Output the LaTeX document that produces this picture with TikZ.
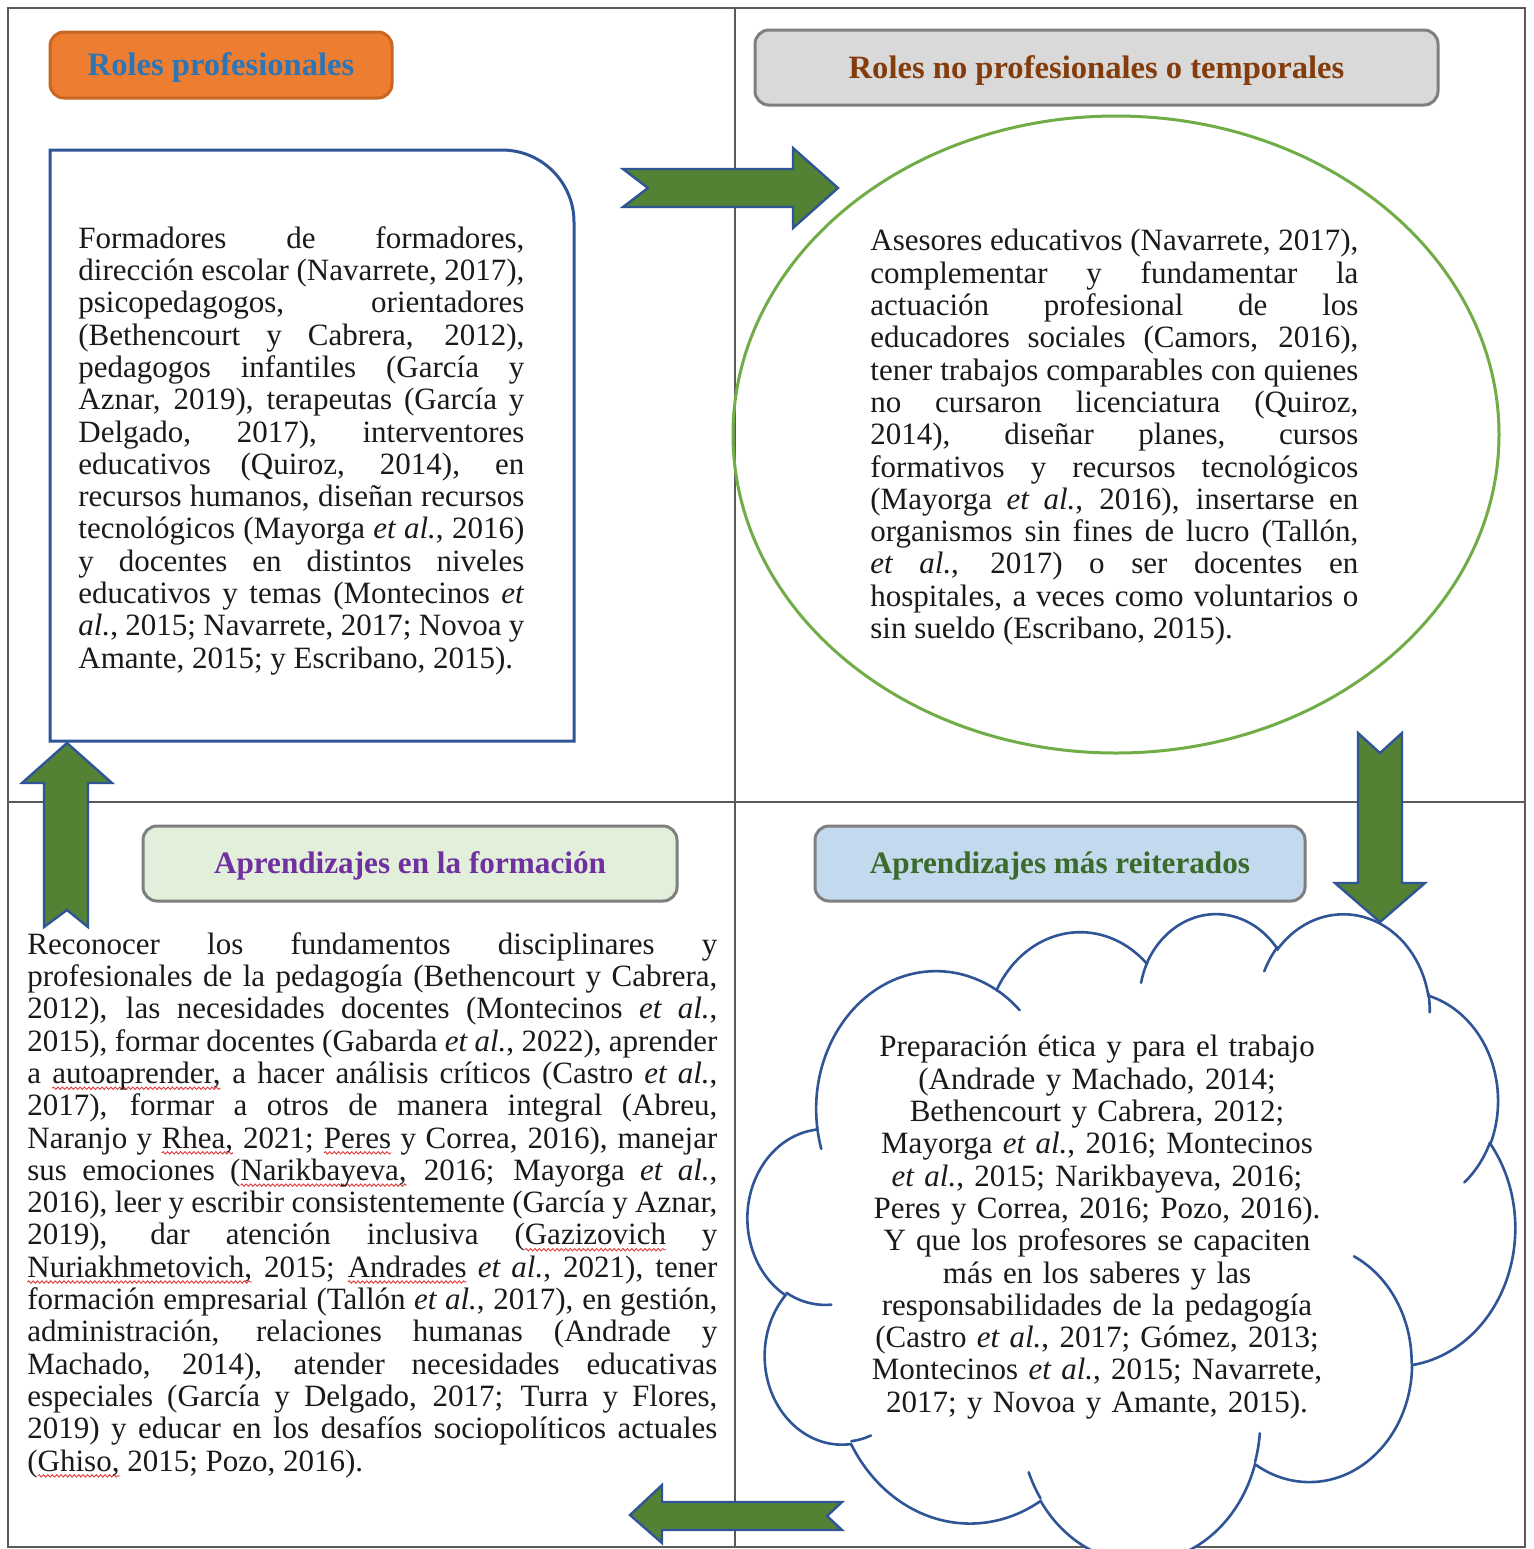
\documentclass[tikz,border=0pt]{standalone}
\usepackage{fontspec}
\setmainfont{Liberation Serif}
\usetikzlibrary{decorations.pathmorphing}
\tolerance=10000 \hbadness=10000 \hfuzz=4pt \hyphenpenalty=10000
\definecolor{framegray}{HTML}{5A5A5A}
\definecolor{orangefill}{HTML}{ED7D31}
\definecolor{orangeedge}{HTML}{C9661F}
\definecolor{hdrblue}{HTML}{2E75B6}
\definecolor{grayfill}{HTML}{D9D9D9}
\definecolor{grayedge}{HTML}{7F7F7F}
\definecolor{brownhdr}{HTML}{843C0C}
\definecolor{greenfill}{HTML}{E2EFDA}
\definecolor{purplehdr}{HTML}{7030A0}
\definecolor{bluefill}{HTML}{C3D9EE}
\definecolor{greenhdr}{HTML}{3A6B2A}
\definecolor{boxblue}{HTML}{2F5597}
\definecolor{ellgreen}{HTML}{70AD47}
\definecolor{arrowgreen}{HTML}{548235}
\definecolor{arrowblue}{HTML}{2F5597}
\definecolor{cloudblue}{HTML}{2F5597}
\definecolor{bodyblack}{HTML}{1A1A1A}
\definecolor{spellred}{HTML}{E03A3A}
% red wavy spell-check underline under a word
\newlength\splw
\newcommand\spl[1]{\settowidth{\splw}{#1}\leavevmode\rlap{\tikz[overlay]\draw[spellred, line width=0.45pt, decorate, decoration={snake, amplitude=0.6pt, segment length=2.2pt}] (0pt,-2.4pt) -- (\splw,-2.4pt);}#1}
% cloud arcs (DrawingML cloud geometry, visual angles -> parametric angles)
\newcommand\cldmk[5]{%
  \edef\cldtmpS{\fpeval{(#4)/60000}}%
  \edef\cldtmpE{\fpeval{((#4)+(#5))/60000}}%
  \edef\cldtmpTs{\fpeval{round(atand(#2*sind(\cldtmpS), #3*cosd(\cldtmpS)),4)}}%
  \edef\cldtmpTe{\fpeval{atand(#2*sind(\cldtmpE), #3*cosd(\cldtmpE))}}%
  \edef\cldtmpD{\fpeval{round((\cldtmpTe-\cldtmpTs+720) - 360*floor((\cldtmpTe-\cldtmpTs+720)/360),4)}}%
  \expandafter\edef\csname cld#1\endcsname{arc[start angle=\cldtmpTs, delta angle=\cldtmpD, x radius=\fpeval{#2/100}, y radius=\fpeval{#3/100}]}%
}
\cldmk{A}{6753}{9190}{-11429249}{7426832}
\cldmk{B}{5333}{7267}{-8646143}{5396714}
\cldmk{C}{4365}{5945}{-8748475}{5983381}
\cldmk{D}{4857}{6595}{-7859164}{7034504}
\cldmk{E}{5333}{7273}{-4722533}{6541615}
\cldmk{F}{6775}{9220}{-2776035}{7816140}
\cldmk{G}{5785}{7867}{37501}{6842000}
\cldmk{H}{6752}{9215}{1347096}{6910353}
\cldmk{I}{7720}{10543}{3974558}{4542661}
\cldmk{J}{4360}{5918}{-16496525}{8804134}
\cldmk{K}{4345}{5945}{-14809710}{9151131}
\cldmk{Ha}{4345}{5945}{5204520}{1585770}
\cldmk{Hb}{4360}{5918}{4416628}{686848}
\cldmk{Hc}{6752}{9215}{8257449}{844866}
\cldmk{Hd}{6752}{9215}{387196}{959901}
\cldmk{He}{5785}{7867}{-4217541}{4255042}
\cldmk{Hf}{5333}{7273}{1819082}{1665090}
\cldmk{Hg}{4857}{6595}{-824660}{891534}
\cldmk{Hh}{4857}{6595}{-8950887}{1091722}
\cldmk{Hi}{4365}{5945}{-9809656}{1045771}
\cldmk{Hj}{6753}{9190}{-4002417}{739161}
\cldmk{Hk}{6753}{9190}{9459261}{711490}
\begin{document}
\begin{tikzpicture}[x=0.5pt, y=-0.5pt,
  hdr/.style={rounded corners=7pt, line width=1.5pt, inner sep=0pt, text height=11.1pt, text depth=0.3pt, font=\fontsize{16.3}{19}\selectfont\bfseries},
  hdrlow/.style={hdr, text height=10.6pt, text depth=0.3pt, font=\fontsize{15.6}{18}\selectfont\bfseries},
  body/.style={inner sep=0pt, font=\fontsize{15.5}{16.15}\selectfont, text=bodyblack},
  blockarrow/.style={fill=arrowgreen, draw=arrowblue, line width=1.2pt, line join=miter},
  frameline/.style={draw=framegray, line width=1pt},
  cloudline/.style={draw=cloudblue, line width=1.3pt, line cap=round}
]
\useasboundingbox (0,0) rectangle (1533,1549);
\fill[white] (0,0) rectangle (1533,1549);
% frame and dividers
\draw[frameline] (8,8) rectangle (1525,1547);
\draw[frameline] (735,8) -- (735,1547);
\draw[frameline] (8,802) -- (1525,802);
% headers
\node[hdr, draw=orangeedge, fill=orangefill, text=hdrblue, minimum width=171pt, minimum height=33pt] (h1) at (221,65) {Roles profesionales};
\node[hdr, draw=grayedge, fill=grayfill, text=brownhdr, minimum width=341.5pt, minimum height=37.5pt] (h2) at (1096.5,67.5) {Roles no profesionales o temporales};
\node[hdrlow, draw=grayedge, fill=greenfill, text=purplehdr, minimum width=267pt, minimum height=37.5pt] (h3) at (410,863.5) {Aprendizajes en la formación};
\node[hdrlow, draw=grayedge, fill=bluefill, text=greenhdr, minimum width=245pt, minimum height=37.5pt] (h4) at (1060,863.5) {Aprendizajes más reiterados};
% left box
\draw[draw=boxblue, line width=1.5pt] (50,741) -- (50,150) -- (502,150) .. controls (541.7,150) and (574,182.3) .. (574,222) -- (574,741) -- cycle;
% ellipse
\draw[draw=ellgreen, line width=1.5pt] (1116,434.5) ellipse [x radius=383, y radius=318.5];
% cloud
\begin{scope}[shift={(748,912)}, x=0.8877pt, y=-0.75pt]
\draw[cloudline, fill=white] (39,143.7) \cldA \cldB \cldC \cldD \cldE \cldF \cldG \cldH \cldI \cldJ \cldK -- cycle;
\draw[cloudline] (46.93,261.77) \cldHa (69.28,348.99) \cldHb (164.78,390.90) \cldHc (288.27,347.51) \cldHd (341.29,229.54) \cldHe (417.98,153.54) \cldHf (383.24,54.26) \cldHg (290.78,39.52) \cldHh (221.41,47.20) \cldHi (140.00,51.92) \cldHj (41.27,157.89) \cldHk;
\end{scope}
% texts
\node[body, anchor=north west, text width=223pt, align=justify] (ta) at (78,226) {Formadores de formadores,\linebreak
dirección escolar (Navarrete, 2017),\linebreak
psicopedagogos, orientadores\linebreak
(Bethencourt y Cabrera, 2012),\linebreak
pedagogos infantiles (García y\linebreak
Aznar, 2019), terapeutas (García y\linebreak
Delgado, 2017), interventores\linebreak
educativos (Quiroz, 2014), en\linebreak
recursos humanos, diseñan recursos\linebreak
tecnológicos (Mayorga \textit{et al.}, 2016)\linebreak
y docentes en distintos niveles\linebreak
educativos y temas (Montecinos \textit{et}\linebreak
\textit{al.}, 2015; Navarrete, 2017; Novoa y\linebreak
Amante, 2015; y Escribano, 2015).};
\node[body, anchor=north west, text width=244pt, align=justify] (tb) at (870,229) {Asesores educativos (Navarrete, 2017),\linebreak
complementar y fundamentar la\linebreak
actuación profesional de los\linebreak
educadores sociales (Camors, 2016),\linebreak
tener trabajos comparables con quienes\linebreak
no cursaron licenciatura (Quiroz,\linebreak
2014), diseñar planes, cursos\linebreak
formativos y recursos tecnológicos\linebreak
(Mayorga \textit{et al.}, 2016), insertarse en\linebreak
organismos sin fines de lucro (Tallón,\linebreak
\textit{et al.}, 2017) o ser docentes en\linebreak
hospitales, a veces como voluntarios o\linebreak
sin sueldo (Escribano, 2015).};
\node[body, anchor=north west, text width=345pt, align=justify] (tc) at (27,932) {Reconocer los fundamentos disciplinares y\linebreak
profesionales de la pedagogía (Bethencourt y Cabrera,\linebreak
2012), las necesidades docentes (Montecinos \textit{et al.},\linebreak
2015), formar docentes (Gabarda \textit{et al.}, 2022), aprender\linebreak
a \spl{autoaprender,} a hacer análisis críticos (Castro \textit{et al.},\linebreak
2017), formar a otros de manera integral (Abreu,\linebreak
Naranjo y \spl{Rhea,} 2021; \spl{Peres} y Correa, 2016), manejar\linebreak
sus emociones (\spl{Narikbayeva,} 2016; Mayorga \textit{et al.},\linebreak
2016), leer y escribir consistentemente (García y Aznar,\linebreak
2019), dar atención inclusiva (\spl{Gazizovich} y\linebreak
\spl{Nuriakhmetovich,} 2015; \spl{Andrades} \textit{et al.}, 2021), tener\linebreak
formación empresarial (Tallón \textit{et al.}, 2017), en gestión,\linebreak
administración, relaciones humanas (Andrade y\linebreak
Machado, 2014), atender necesidades educativas\linebreak
especiales (García y Delgado, 2017; Turra y Flores,\linebreak
2019) y educar en los desafíos sociopolíticos actuales\linebreak
(\spl{Ghiso,} 2015; Pozo, 2016).};
\node[body, anchor=north, text width=240pt, align=center] (td) at (1097,1035) {Preparación ética y para el trabajo\\
(Andrade y Machado, 2014;\\
Bethencourt y Cabrera, 2012;\\
Mayorga \textit{et al.}, 2016; Montecinos\\
\textit{et al.}, 2015; Narikbayeva, 2016;\\
Peres y Correa, 2016; Pozo, 2016).\\
Y que los profesores se capaciten\\
más en los saberes y las\\
responsabilidades de la pedagogía\\
(Castro \textit{et al.}, 2017; Gómez, 2013;\\
Montecinos \textit{et al.}, 2015; Navarrete,\\
2017; y Novoa y Amante, 2015).};
% block arrows
\draw[blockarrow] (623,169) -- (793,169) -- (793,148) -- (838,188) -- (793,228) -- (793,207) -- (623,207) -- (648,188) -- cycle;
\draw[blockarrow] (1358,733) -- (1380,753) -- (1402,733) -- (1402,883) -- (1425,883) -- (1380,922) -- (1335,883) -- (1358,883) -- cycle;
\draw[blockarrow] (67,743) -- (112,783) -- (88,783) -- (88,927) -- (67,910) -- (44,927) -- (44,783) -- (22,783) -- cycle;
\draw[blockarrow] (630,1515) -- (662,1485) -- (662,1502) -- (842,1502) -- (827,1516) -- (842,1530) -- (662,1530) -- (662,1543) -- cycle;
\end{tikzpicture}
\end{document}
